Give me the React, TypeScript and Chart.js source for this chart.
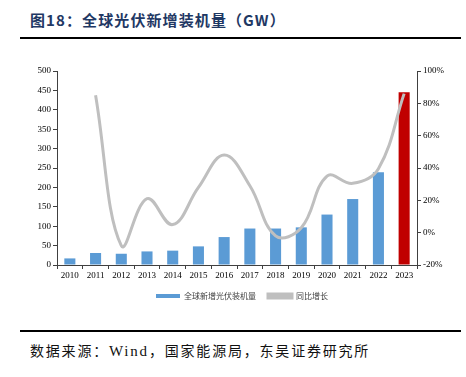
import React, { useEffect, useRef } from "react";
import { Chart, registerables } from "chart.js";

Chart.register(...registerables);

const years = ["2010","2011","2012","2013","2014","2015","2016","2017","2018","2019","2020","2021","2022","2023"];
const installs = [17, 31, 29, 35, 37, 48, 72, 94, 94, 97, 130, 170, 239, 445];
const growth = [null, 85, -8, 21, 5, 28, 48, 29, -2, 3, 35, 30.5, 39.5, 86];
const barColors = ["#5B9BD5","#5B9BD5","#5B9BD5","#5B9BD5","#5B9BD5","#5B9BD5","#5B9BD5","#5B9BD5","#5B9BD5","#5B9BD5","#5B9BD5","#5B9BD5","#5B9BD5","#C00000"];

const serif = "'Liberation Serif', 'Times New Roman', serif";
const cjk = "'Noto Sans CJK SC', sans-serif";

export default function App() {
  const ref = useRef<HTMLCanvasElement | null>(null);
  useEffect(() => {
    if (!ref.current) return;
    const axisColor = "#404040";
    const chart = new Chart(ref.current, {
      type: "bar",
      data: {
        labels: years,
        datasets: [
          {
            type: "line",
            label: "同比增长",
            data: growth as any,
            yAxisID: "y1",
            borderColor: "#BFBFBF",
            backgroundColor: "#BFBFBF",
            borderWidth: 3,
            pointRadius: 0,
            tension: 0.4,
            order: 1,
          } as any,
          {
            type: "bar",
            label: "全球新增光伏装机量",
            data: installs,
            yAxisID: "y",
            backgroundColor: barColors,
            barPercentage: 0.43,
            categoryPercentage: 1,
            order: 2,
          } as any,
        ],
      },
      options: {
        animation: false,
        responsive: false,
        layout: { padding: { top: 11, left: 18, right: 0, bottom: 0 } },
        plugins: {
          tooltip: { enabled: false },
          legend: {
            position: "bottom",
            reverse: true,
            labels: {
              boxWidth: 24,
              boxHeight: 4,
              padding: 12,
              color: "#404040",
              font: { family: cjk, size: 8 },
            },
          },
        },
        scales: {
          x: {
            offset: true,
            grid: { display: true, drawOnChartArea: false, offset: true, tickLength: 4, color: axisColor },
            border: { color: axisColor },
            ticks: { color: "#000", font: { family: serif, size: 9 }, maxRotation: 0, padding: 1 },
            afterFit: (s: any) => { s.height = 15; },
          },
          y: {
            position: "left",
            min: 0,
            max: 500,
            grid: { display: true, drawOnChartArea: false, tickLength: 4, color: axisColor },
            border: { color: axisColor },
            ticks: { stepSize: 50, color: "#000", font: { family: serif, size: 9 }, padding: 2 },
            afterFit: (s: any) => { s.width = 39; },
          },
          y1: {
            position: "right",
            min: -20,
            max: 100,
            grid: { display: true, drawOnChartArea: false, tickLength: 4, color: axisColor },
            border: { color: axisColor },
            ticks: { stepSize: 20, color: "#000", font: { family: serif, size: 9 }, padding: 2, callback: (v: any) => v + "%" },
            afterFit: (s: any) => { s.width = 49; },
          },
        },
      },
    });
    return () => chart.destroy();
  }, []);

  return (
    <div style={{ position: "absolute", left: 0, top: 0, width: 466, height: 377, background: "#fff" }}>
      <div style={{ position: "absolute", left: 30, top: 9, fontFamily: cjk, fontWeight: 700, fontSize: 15, letterSpacing: 1.1, color: "#1F3864", lineHeight: "22px", whiteSpace: "nowrap" }}>
        图18：全球光伏新增装机量（GW）
      </div>
      <div style={{ position: "absolute", left: 20, top: 37, width: 441, height: 2, background: "#000" }} />
      <div style={{ position: "absolute", left: 0, top: 60, width: 466, height: 250 }}>
        <canvas ref={ref} width={466} height={250} style={{ width: 466, height: 250 }} />
      </div>
      <div style={{ position: "absolute", left: 20, top: 330, width: 441, height: 2, background: "#000" }} />
      <div style={{ position: "absolute", left: 30, top: 340, fontFamily: cjk, fontSize: 14, letterSpacing: 1.8, color: "#111", lineHeight: "20px", whiteSpace: "nowrap" }}>
        数据来源：<span style={{ fontFamily: serif, fontSize: 15 }}>Wind</span>，国家能源局，东吴证券研究所
      </div>
    </div>
  );
}
